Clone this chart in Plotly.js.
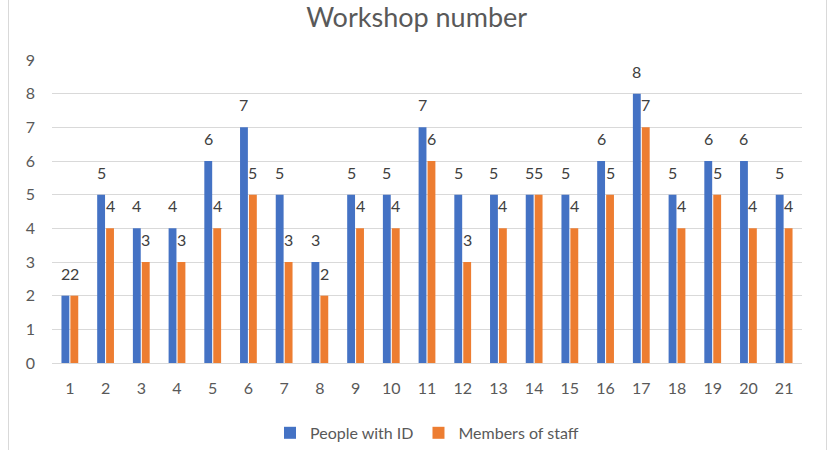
<!DOCTYPE html>
<html>
<head>
<meta charset="utf-8">
<script src="https://cdn.plot.ly/plotly-3.0.1.min.js"></script>
<style>
  body { margin: 0; background: #fff; }
  #wrap { position: relative; width: 840px; height: 450px; overflow: hidden; }
  #chart { width: 840px; height: 450px; }
  #frame { position: absolute; left: 8px; top: -2px; width: 817px; height: 460px;
           border: 1px solid #d9d9d9; pointer-events: none; }
</style>
</head>
<body>
<div id="wrap">
  <div id="chart"></div>
  <div id="frame"></div>
</div>
<script>
var workshops = ["1", "2", "3", "4", "5", "6", "7", "8", "9", "10", "11",
                 "12", "13", "14", "15", "16", "17", "18", "19", "20", "21"];
var peopleWithId = [2, 5, 4, 4, 6, 7, 5, 3, 5, 5, 7, 5, 5, 5, 5, 6, 8, 5, 6, 6, 5];
var membersOfStaff = [2, 4, 3, 3, 4, 5, 3, 2, 4, 4, 6, 3, 4, 5, 4, 5, 7, 4, 5, 4, 4];

var fontFamily = "Lato, 'Open Sans', sans-serif";
var bargap = 0.5;

var data = [
  {
    x: workshops,
    y: peopleWithId,
    name: "People with ID",
    type: "bar",
    marker: { color: "#4472c4" }
  },
  {
    x: workshops,
    y: membersOfStaff,
    name: "Members of staff",
    type: "bar",
    marker: { color: "#ed7d31" }
  }
];

// data labels sit a bit higher above the bars than plotly's outside text,
// so use annotations centred on each bar of the group
var shift = (1 - bargap) / 4;
var annotations = [];
[peopleWithId, membersOfStaff].forEach(function (series, s) {
  series.forEach(function (v, i) {
    annotations.push({
      x: i + (s === 0 ? -shift : shift),
      y: v,
      xref: "x",
      yref: "y",
      text: String(v),
      showarrow: false,
      xanchor: "center",
      yanchor: "bottom",
      yshift: 11,
      font: { family: fontFamily, size: 16, color: "#404040" }
    });
  });
});

var layout = {
  width: 840,
  height: 450,
  margin: { l: 52, r: 38, t: 60, b: 87 },
  paper_bgcolor: "#ffffff",
  plot_bgcolor: "#ffffff",
  font: { family: fontFamily, color: "#595959", size: 16 },
  title: {
    text: "Workshop number",
    font: { size: 27, color: "#595959" },
    x: 0.496,
    xanchor: "center",
    yref: "container",
    y: 0.962,
    yanchor: "middle",
    automargin: false
  },
  barmode: "group",
  bargap: bargap,
  bargroupgap: 0.12,
  xaxis: {
    type: "category",
    showgrid: false,
    showline: true,
    linecolor: "#d9d9d9",
    ticks: "",
    ticklabelstandoff: 11,
    tickfont: { size: 16, color: "#595959" },
    automargin: false
  },
  yaxis: {
    range: [0, 9],
    dtick: 1,
    showgrid: true,
    gridcolor: "#d9d9d9",
    zeroline: true,
    zerolinecolor: "#d9d9d9",
    showline: false,
    ticks: "",
    ticklabelstandoff: 16,
    tickfont: { size: 16, color: "#595959" },
    automargin: false
  },
  showlegend: true,
  legend: {
    orientation: "h",
    x: 0.5,
    xanchor: "center",
    yref: "container",
    y: 0.038,
    yanchor: "middle",
    font: { size: 16, color: "#595959" }
  },
  annotations: annotations
};

Plotly.newPlot("chart", data, layout, { displayModeBar: false, staticPlot: true });
</script>
</body>
</html>
